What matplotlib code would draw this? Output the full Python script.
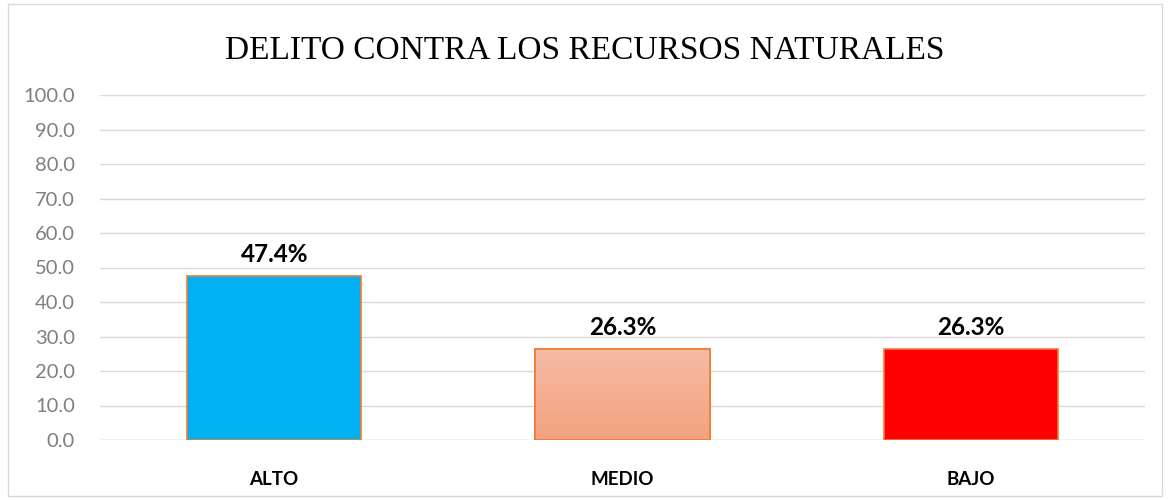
import matplotlib.pyplot as plt
import matplotlib.patches as patches
import numpy as np

# datos
categorias = ['ALTO', 'MEDIO', 'BAJO']
porcentajes = [47.4, 26.3, 26.3]
colores = ['#00B0F0', '#F4B096', '#FF0000']
y_ticks = [0, 10, 20, 30, 40, 50, 60, 70, 80, 90, 100]

fig = plt.figure(figsize=(11.69, 5.0), dpi=100)
ax = fig.add_axes([100/1169, 60/500, 1045/1169, 345/500])

x = range(len(categorias))
barras = ax.bar(x, porcentajes, width=0.5, color=colores, edgecolor='#ED7D31', linewidth=1.2, zorder=3)

# degradado en la barra MEDIO
b = barras[1]
grad = np.linspace(0, 1, 100).reshape(-1, 1)
from matplotlib.colors import LinearSegmentedColormap
cmap = LinearSegmentedColormap.from_list('g', ['#F4A27F', '#F5BBA5'])
img = ax.imshow(grad, cmap=cmap, aspect='auto', origin='lower',
                extent=[b.get_x(), b.get_x() + b.get_width(), 0, b.get_height()], zorder=3.5)
img.set_clip_path(b)
ax.bar([1], [porcentajes[1]], width=0.5, color='none', edgecolor='#ED7D31', linewidth=1.2, zorder=4)

for i, v in enumerate(porcentajes):
    ax.text(i, v + 3, f'{v:.1f}%', ha='center', va='bottom',
            fontsize=17.5, fontweight='bold', family='Lato', color='black')

ax.set_xlim(-0.5, 2.5)
ax.set_ylim(0, 100)
ax.set_yticks(y_ticks)
ax.set_yticklabels([f'{t:.1f}' for t in y_ticks], family='Lato', fontsize=14.5, color='#7F7F7F')
ax.set_xticks(list(x))
ax.set_xticklabels(categorias, family='Lato', fontsize=13.5, fontweight='bold', color='black')
ax.grid(axis='y', color='#D9D9D9', linewidth=1, zorder=0)
ax.tick_params(axis='y', length=0, pad=18)
ax.tick_params(axis='x', length=0, pad=22)
for s in ax.spines.values():
    s.set_visible(False)
ax.axhline(0, color='#D9D9D9', linewidth=1, zorder=1)

fig.text(0.5, 0.898, 'DELITO CONTRA LOS RECURSOS NATURALES', ha='center', va='center',
         family='Liberation Serif', fontsize=24, color='black')

# marco del gráfico
fig.patches.append(patches.Rectangle((8/1169, 4/500), 1154/1169, 492/500,
                                     transform=fig.transFigure, fill=False,
                                     edgecolor='#D9D9D9', linewidth=1))

fig.savefig('out.png', dpi=100)
